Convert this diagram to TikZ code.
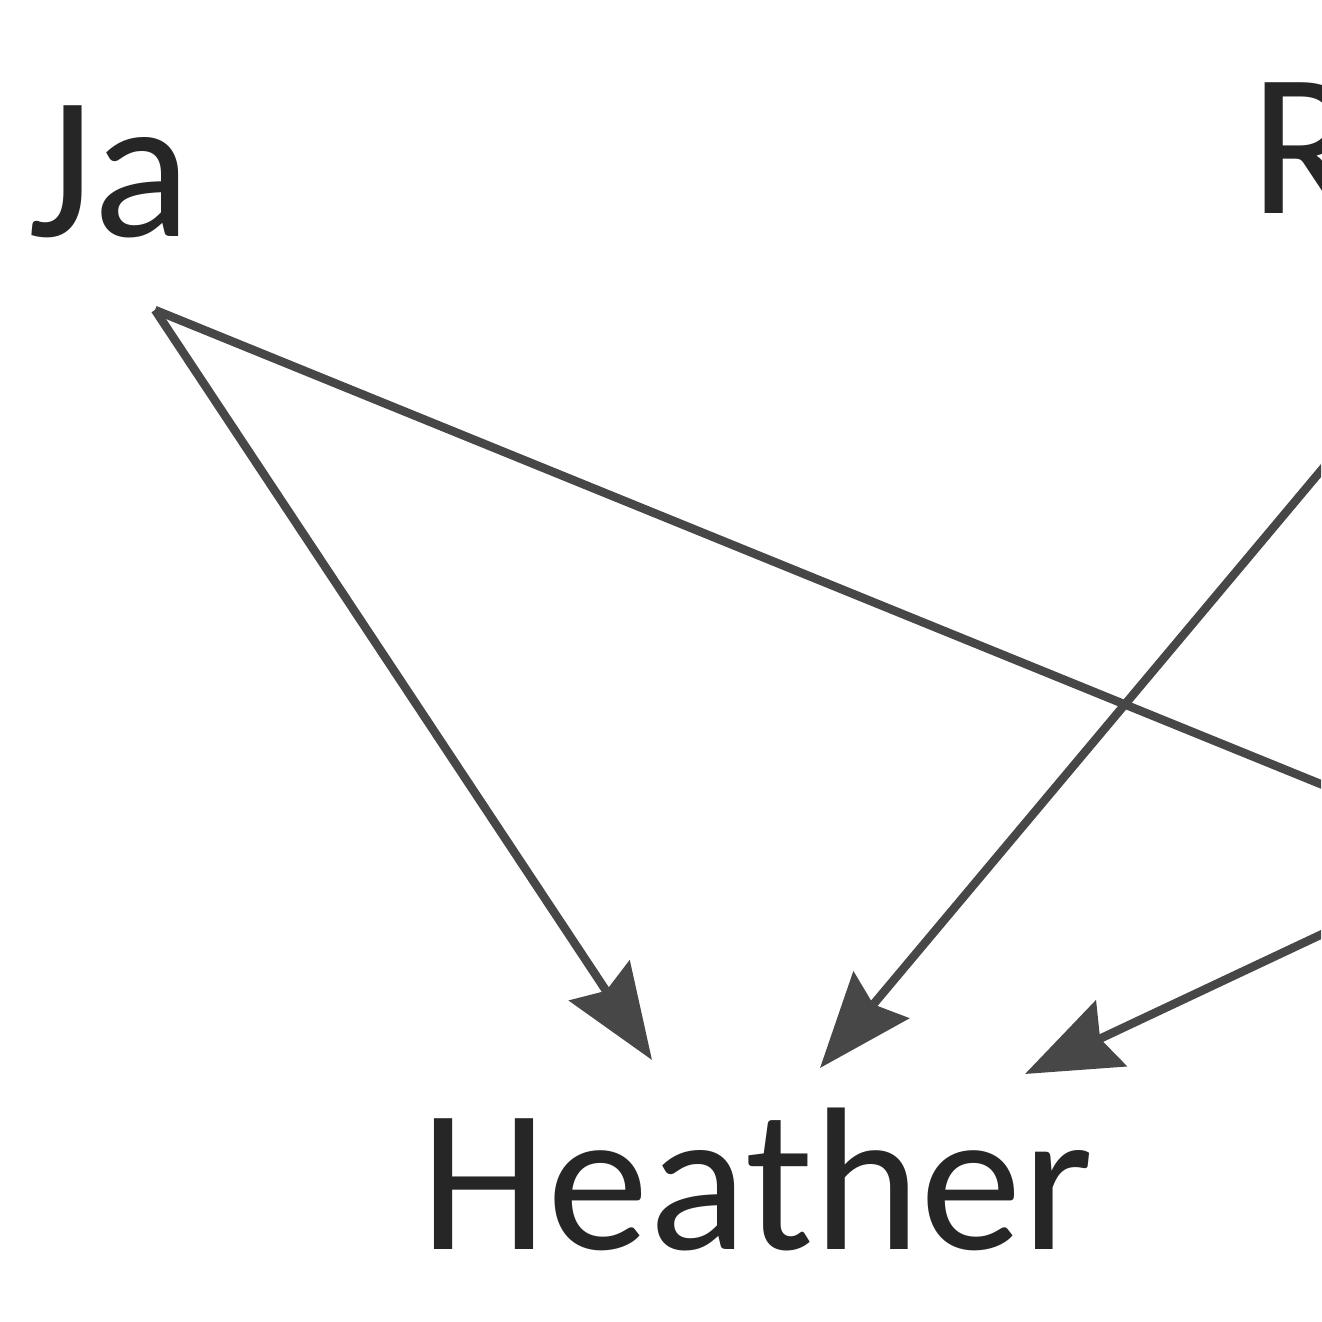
\documentclass[tikz,border=0pt]{standalone}
\usepackage{fontspec}
\setmainfont{Carlito}
\usetikzlibrary{arrows.meta}
\begin{document}
\begin{tikzpicture}[
  lbl/.style={inner sep=0pt, font=\fontsize{58}{62}\selectfont, text=black!85},
  edge/.style={draw=black!72, line width=2.4pt, -{Stealth[length=0.95cm,width=0.72cm,inset=0.12cm]}},
  plain/.style={draw=black!72, line width=2.4pt}
]
\useasboundingbox (0,0) rectangle (13.21,13.22);
\clip (0,0) rectangle (13.21,13.22);
% nodes
\node[lbl, anchor=base west] (Ja) at (0.28,10.85) {Ja};
\node[lbl, anchor=base west] (R) at (12.50,11.08) {R};
\node[lbl, anchor=base] (Heather) at (7.57,0.72) {Heather};
% connector end points
\coordinate (jaout) at (1.55,10.12);
\coordinate (t1) at (6.52,2.62);
\coordinate (t2) at (8.20,2.54);
\coordinate (t3) at (10.25,2.48);
\coordinate (off1) at (13.5,5.26);
\coordinate (off2) at (13.5,8.86);
\coordinate (off3) at (13.5,4.01);
% connectors
\draw[edge] (jaout) -- (t1);
\draw[plain] (jaout) -- (off1);
\draw[edge] (off2) -- (t2);
\draw[edge] (off3) -- (t3);
\end{tikzpicture}
\end{document}
